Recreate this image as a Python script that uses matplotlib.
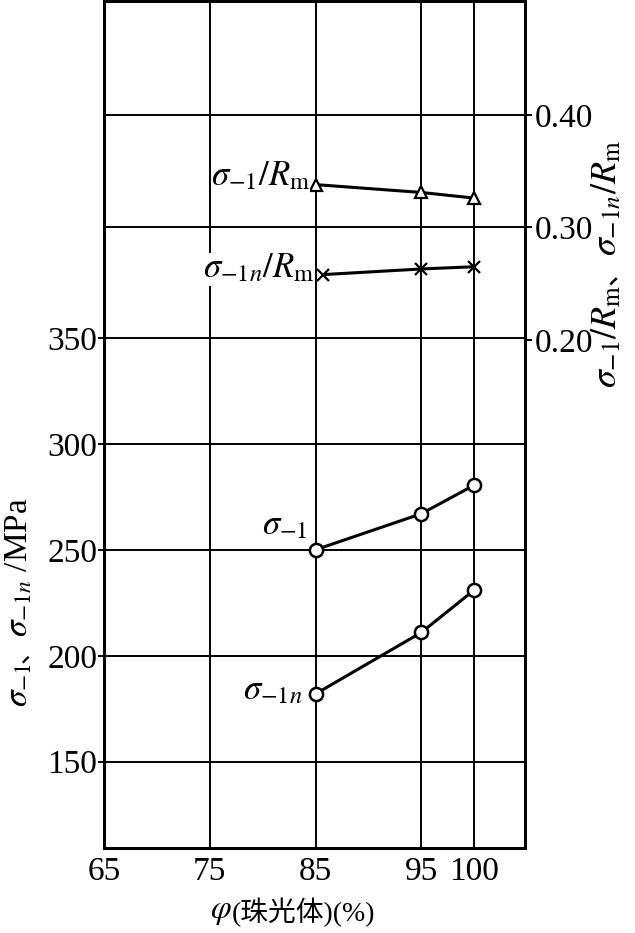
import matplotlib.pyplot as plt

plt.rcParams['font.family'] = ['Liberation Serif', 'Noto Sans CJK SC']
plt.rcParams['mathtext.fontset'] = 'stix'

# pearlite content (%)
x_ticks = [65, 75, 85, 95, 100]
x_pts = [85, 95, 100]
x_cross = [85.7, 95, 100]

# fatigue strength, MPa
sigma_1 = [250, 267, 280.5]
sigma_1n = [182, 211, 231]

# ratios to tensile strength
ratio_1 = [0.338, 0.331, 0.326]
ratio_1n = [0.258, 0.263, 0.265]

left_ticks = [150, 200, 250, 300, 350]
right_ticks = [0.20, 0.30, 0.40]
right_labels = ['0.20', '0.30', '0.40']

fig = plt.figure(figsize=(6.35, 9.33), dpi=100)
ax = fig.add_axes([104 / 635, 85 / 933, 421 / 635, 847 / 933])
ax2 = ax.twinx()

lw = 2.2
ax.plot(x_pts, sigma_1, '-o', color='black', lw=lw, ms=9.5,
        mfc='white', mew=1.8, zorder=3)
ax.plot(x_pts, sigma_1n, '-o', color='black', lw=lw, ms=9.5,
        mfc='white', mew=1.8, zorder=3)
ax2.plot(x_pts, ratio_1, '-^', color='black', lw=lw, ms=9,
         mfc='white', mew=1.6, zorder=3)
ax2.plot(x_cross, ratio_1n, '-x', color='black', lw=lw, ms=8,
         mew=1.6, zorder=3)

ax.set_xlim(65, 104.8)
ax.set_ylim(109.3, 508.9)
ax2.set_ylim(-0.2517, 0.5012)

ax.set_xticks(x_ticks)
ax.set_yticks(left_ticks)
ax2.set_yticks(right_ticks)
ax2.set_yticklabels(right_labels)

ax.grid(True, color='black', lw=1.4)
ax.set_axisbelow(True)
# 0.20 sits on the 350 line already
for r in right_ticks[1:]:
    ax2.axhline(r, color='black', lw=1.4, zorder=0)

ax.tick_params(axis='x', length=0, pad=6, labelsize=24)
ax.tick_params(axis='y', length=4, width=1.4, pad=1, labelsize=24)
ax2.tick_params(axis='y', length=5, width=1.4, pad=2, labelsize=24)

for a in (ax, ax2):
    for s in a.spines.values():
        s.set_linewidth(2.0)

# curve labels
fs = 25
box = dict(facecolor='white', edgecolor='none', pad=0)
ax2.annotate(r'$\sigma_{-1}/R_{\mathrm{m}}$', (x_pts[0], ratio_1[0]),
             xytext=(-4, 6), textcoords='offset points',
             ha='right', va='center', fontsize=fs, bbox=box, zorder=4)
ax2.annotate(r'$\sigma_{-1n}/R_{\mathrm{m}}$', (x_cross[0], ratio_1n[0]),
             xytext=(-6, 4), textcoords='offset points',
             ha='right', va='center', fontsize=fs, bbox=box, zorder=4)
ax.annotate(r'$\sigma_{-1}$', (x_pts[0], sigma_1[0]),
            xytext=(-6, 17), textcoords='offset points',
            ha='right', va='center', fontsize=fs)
ax.annotate(r'$\sigma_{-1n}$', (x_pts[0], sigma_1n[0]),
            xytext=(-9, 2), textcoords='offset points',
            ha='right', va='center', fontsize=fs)

# x label
fig.text(0.365, 1 - 912 / 933, r'$\varphi$', fontsize=24,
         ha='right', va='center')
fig.text(0.365, 1 - 912 / 933, '(珠光体)(%)', fontsize=20,
         ha='left', va='center')


# y labels built piece by piece so the CJK comma can use its own font
def stack(x, y, parts, fs):
    prev = None
    for txt, fam, size in parts:
        if prev is None:
            prev = ax.annotate(txt, (x, y), xycoords='figure fraction',
                               fontsize=fs * size, rotation=90,
                               rotation_mode='anchor', ha='left',
                               va='baseline', family=fam,
                               annotation_clip=False)
        else:
            prev = ax.annotate(txt, (x, 1.0),
                               xycoords=('figure fraction', prev),
                               fontsize=fs * size, rotation=90,
                               rotation_mode='anchor', ha='left',
                               va='baseline', family=fam,
                               annotation_clip=False)


serif = ['Liberation Serif']
cjk = ['Noto Sans CJK SC']
stack(28 / 635, 1 - 707 / 933,
      [(r'$\sigma_{-1}$', serif, 1), ('、', cjk, 0.8),
       (r'$\sigma_{-1n}$ /MPa', serif, 1)], 24)
stack(616 / 635, 1 - 388 / 933,
      [(r'$\sigma_{-1}/R_{\mathrm{m}}$', serif, 1), ('、', cjk, 0.8),
       (r'$\sigma_{-1n}/R_{\mathrm{m}}$', serif, 1)], 26)

fig.savefig('out.png', dpi=100)
